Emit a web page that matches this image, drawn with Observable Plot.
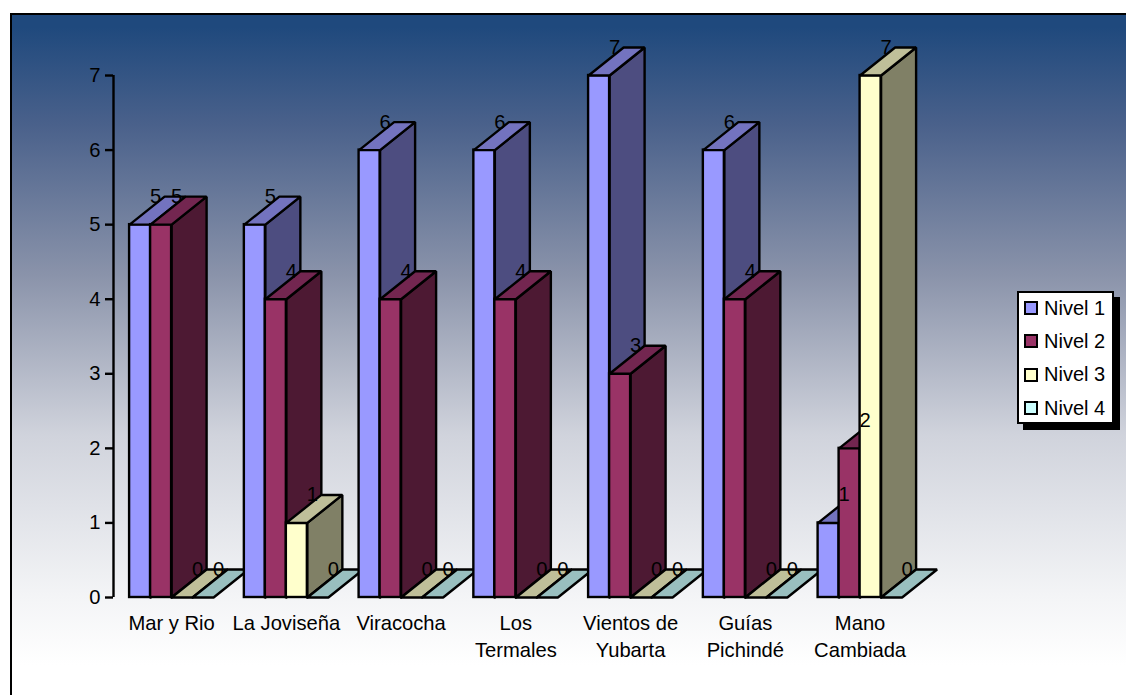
<!DOCTYPE html>
<html>
<head>
<meta charset="utf-8">
<script src="https://cdn.jsdelivr.net/npm/d3@7"></script>
<script src="https://cdn.jsdelivr.net/npm/@observablehq/plot@0.6"></script>
<style>
html,body{margin:0;padding:0;background:#fff;overflow:hidden}
#page{position:relative;width:1126px;height:695px;overflow:hidden;font-family:"Liberation Sans",Arial,sans-serif}
#bg{position:absolute;left:10px;top:13px;width:1125px;height:690px;border:2px solid #000;
 background:linear-gradient(to bottom,#1f497d 0,#1f497d 12px,#4a618b 110px,#8a93aa 260px,#d0d3dc 420px,#f3f4f6 580px,#ffffff 650px)}
#chart{position:absolute;left:0;top:0}
#chart svg{background:transparent!important}
#legend{position:absolute;left:1017px;top:291px;width:93px;height:129px;background:#fff;border:2px solid #000;box-shadow:6px 6px 0 #000;font-size:20px;color:#000}
#legend .row{position:absolute;left:5px;height:20px;display:flex;align-items:center;white-space:nowrap}
#legend .sw{width:10px;height:10px;border:2.4px solid #000;margin-right:6px;flex:none}
</style>
</head>
<body>
<div id="page"><div id="bg"></div><div id="chart"></div><div id="legend"></div></div>
<script>
const categories = ["Mar y Rio","La Joviseña","Viracocha","Los\nTermales","Vientos de\nYubarta","Guías\nPichindé","Mano\nCambiada"];
const seriesNames = ["Nivel 1","Nivel 2","Nivel 3","Nivel 4"];
const nivel1 = [5,5,6,6,7,6,1];
const nivel2 = [5,4,4,4,3,4,2];
const nivel3 = [0,1,0,0,0,0,7];
const nivel4 = [0,0,0,0,0,0,0];
const yTicks = [0,1,2,3,4,5,6,7];
const faceColors = ["#9999ff","#993366","#ffffcc","#ccffff"];
const topColors  = ["#7373bf","#732650","#bfbf99","#99bfbf"];
const sideColors = ["#4d4d80","#4d1933","#808066","#668080"];

const seriesValues = [nivel1,nivel2,nivel3,nivel4];
const stride = 114.75, xLeft = 113, yBase = 597, unit = 74.57;
const W = 1126, H = 695;
const fs = 20.2;
const bw = 21/stride, off = 16.1/stride;
const depthX = 35/stride, depthY = 28/unit;

const bars = [];
categories.forEach((c,i)=>seriesNames.forEach((s,j)=>{
  bars.push({i,j,c,s,v:seriesValues[j][i],x0:i+off+j*bw,x1:i+off+(j+1)*bw});
}));

const marks = [];
const strokeOpts = {stroke:"#000",strokeWidth:2.4,strokeLinejoin:"miter"};
// painter's order: one bar at a time, left to right
bars.forEach((b,k)=>{
  const side = [[b.x1,0],[b.x1+depthX,depthY],[b.x1+depthX,b.v+depthY],[b.x1,b.v],[b.x1,0]];
  const top  = [[b.x0,b.v],[b.x0+depthX,b.v+depthY],[b.x1+depthX,b.v+depthY],[b.x1,b.v],[b.x0,b.v]];
  if (b.v>0) {
    marks.push(Plot.line(side,{x:d=>d[0],y:d=>d[1],fill:sideColors[b.j],curve:"linear",...strokeOpts}));
    marks.push(Plot.rect([b],{x1:"x0",x2:"x1",y1:0,y2:"v",fill:faceColors[b.j],...strokeOpts}));
  }
  marks.push(Plot.line(top,{x:d=>d[0],y:d=>d[1],fill:topColors[b.j],curve:"linear",...strokeOpts}));
});

const plot = Plot.plot({
  width:W,height:H,
  marginLeft:xLeft,marginRight:W-xLeft-7*stride,marginTop:yBase-7*unit,marginBottom:H-yBase,
  x:{domain:[0,7],axis:null},
  y:{domain:[0,7],axis:null},
  style:{background:"transparent",fontFamily:"'Liberation Sans',Arial,sans-serif",fontSize:fs+"px",color:"#000"},
  marks:[
    ...marks,
    Plot.ruleX([0],{y1:0,y2:7,stroke:"#000",strokeWidth:2.4}),
    Plot.axisY({ticks:yTicks,tickSize:8,tickPadding:5,strokeWidth:2.4,stroke:"#000",fill:"#000",fontSize:fs,label:null,tickFormat:d=>String(d)}),
    Plot.text(bars,{x:d=>d.x0+26/stride,y:d=>d.v+depthY,text:d=>String(d.v),fill:"#000",fontSize:fs,stroke:null}),
    Plot.text(categories,{x:(d,i)=>i+off+2*bw,y:()=>0,text:d=>d,dy:13,lineAnchor:"top",lineHeight:1.34,textAnchor:"middle",fill:"#000",fontSize:fs})
  ]
});
document.getElementById("chart").append(plot);

const legend = d3.select("#legend");
seriesNames.forEach((s,j)=>{
  const r = legend.append("div").attr("class","row").style("top",(5+j*33.4)+"px");
  r.append("div").attr("class","sw").style("background",faceColors[j]);
  r.append("span").text(s);
});
</script>
</body>
</html>
